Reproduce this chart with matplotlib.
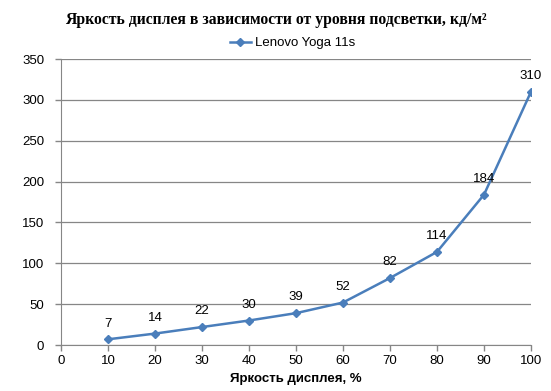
import matplotlib
matplotlib.use("Agg")
import matplotlib.pyplot as plt

# chart data
brightness_pct = [10, 20, 30, 40, 50, 60, 70, 80, 90, 100]
luminance = [7, 14, 22, 30, 39, 52, 82, 114, 184, 310]
series_name = "Lenovo Yoga 11s"

line_color = "#4A7EBB"
grid_color = "#868686"

plt.rcParams['font.family'] = ['Liberation Sans', 'DejaVu Sans']

fig = plt.figure(figsize=(5.51, 3.91), dpi=100)
ax = fig.add_axes([0.1107, 0.1176, 0.853, 0.7314])

ax.plot(brightness_pct, luminance, color=line_color, lw=1.8, marker="D",
        markersize=4.5, label=series_name)

# value labels above points
for x, y in zip(brightness_pct, luminance):
    ax.annotate(str(y), (x, y), xytext=(0, 7), textcoords="offset points",
                ha="center", va="bottom", fontsize=9.5, color="black")

ax.set_xlim(0, 100)
ax.set_ylim(0, 350)
ax.set_xticks(range(0, 101, 10))
ax.set_yticks(range(0, 351, 50))
ax.tick_params(axis="both", labelsize=9.5, length=4, color=grid_color, width=1)
ax.tick_params(axis="y", pad=8)
ax.grid(axis="y", color=grid_color, lw=0.9)
ax.set_axisbelow(True)
for side in ["top", "right"]:
    ax.spines[side].set_visible(False)
ax.spines["bottom"].set_color(grid_color)
ax.spines["left"].set_color(grid_color)

ax.set_xlabel("Яркость дисплея, %", fontsize=9.5, fontweight="bold", labelpad=4)

fig.text(0.5, 0.95, "Яркость дисплея в зависимости от уровня подсветки, кд/м²",
         ha="center", va="center", fontsize=11.3, fontweight="bold",
         family=["Liberation Serif", "DejaVu Serif"])

fig.legend(loc="center", bbox_to_anchor=(0.531, 0.89), frameon=False, fontsize=9.5,
           handlelength=1.6, handletextpad=0.3, borderaxespad=0)

fig.savefig("out.png", dpi=100)
